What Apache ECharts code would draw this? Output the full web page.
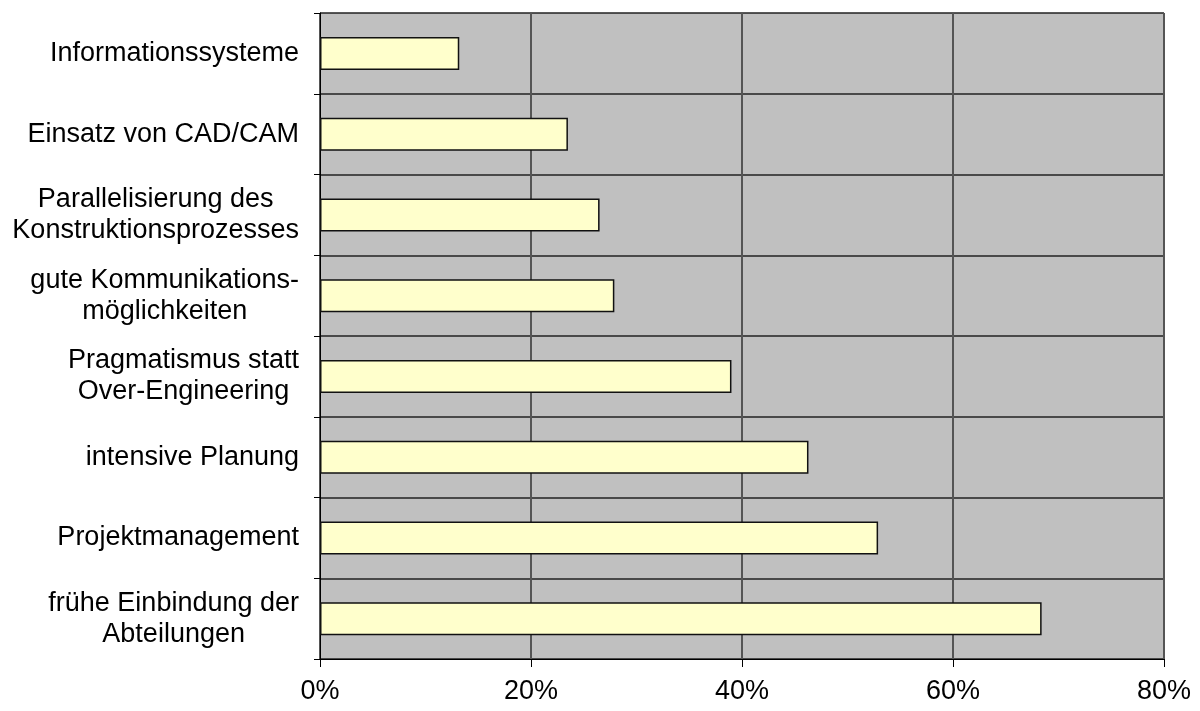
<!DOCTYPE html>
<html>
<head>
<meta charset="utf-8">
<script src="https://cdn.jsdelivr.net/npm/echarts@6/dist/echarts.min.js"></script>
<style>
  html, body { margin: 0; padding: 0; background: #fff; }
  #chart { width: 1200px; height: 711px; }
</style>
</head>
<body>
<div id="chart"></div>
<script>
// categories from top to bottom
const categories = [
  'Informationssysteme',
  'Einsatz von CAD/CAM',
  'Parallelisierung des\nKonstruktionsprozesses',
  'gute Kommunikations-\nmöglichkeiten',
  'Pragmatismus statt\nOver-Engineering',
  'intensive Planung',
  'Projektmanagement',
  'frühe Einbindung der\nAbteilungen'
];
// share in percent
const values = [13.2, 23.5, 26.5, 27.9, 39.0, 46.3, 52.9, 68.4];
const xTicks = [0, 20, 40, 60, 80];

const chart = echarts.init(document.getElementById('chart'));
const fontFamily = '"Liberation Sans", Arial, sans-serif';

chart.setOption({
  animation: false,
  textStyle: { fontFamily },
  grid: {
    left: 320, right: 36, top: 13, bottom: 52,
    show: true,
    backgroundColor: '#C0C0C0',
    borderWidth: 0
  },
  xAxis: {
    type: 'value',
    min: xTicks[0],
    max: xTicks[xTicks.length - 1],
    interval: xTicks[1] - xTicks[0],
    axisLine: { show: true, lineStyle: { color: '#000', width: 1 } },
    axisTick: { show: true, length: 8, lineStyle: { color: '#000' } },
    axisLabel: {
      formatter: '{value}%',
      color: '#000',
      fontSize: 27,
      fontFamily,
      margin: 19
    },
    splitLine: { show: true, lineStyle: { color: '#555', width: 2 } }
  },
  yAxis: {
    type: 'category',
    inverse: true,
    data: categories,
    axisLine: { show: true, lineStyle: { color: '#000', width: 1 } },
    axisTick: { show: true, length: 6, lineStyle: { color: '#000' } },
    splitLine: { show: true, lineStyle: { color: '#222', width: 1.5 } },
    axisLabel: {
      margin: 21,
      color: '#000',
      formatter: v => v.split('\n').map(l => '{c|' + l + '}').join('\n'),
      rich: {
        c: {
          align: 'center',
          fontSize: 27,
          lineHeight: 31,
          fontFamily,
          color: '#000'
        }
      }
    }
  },
  series: [{
    type: 'bar',
    data: values,
    barWidth: 33,
    itemStyle: {
      color: '#FFFFCC',
      borderColor: '#111',
      borderWidth: 1.5
    }
  }]
});
</script>
</body>
</html>
